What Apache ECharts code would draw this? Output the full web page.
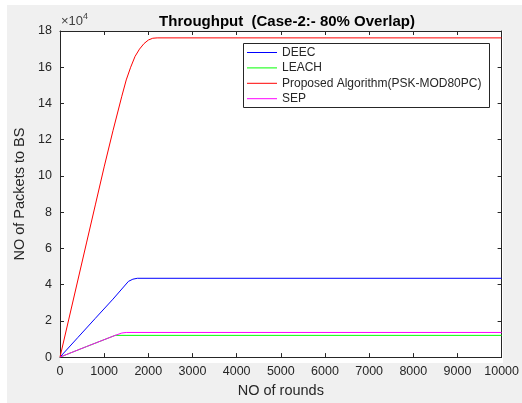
<!DOCTYPE html>
<html>
<head>
<meta charset="utf-8">
<script src="https://cdn.jsdelivr.net/npm/echarts@6/dist/echarts.min.js"></script>
<style>
html,body{margin:0;padding:0;background:#fff;}
#c{width:522px;height:403px;}
</style>
</head>
<body>
<div id="c"></div>
<script>
// Data (packets to BS vs rounds)
var seriesNames = ['DEEC', 'LEACH', 'Proposed Algorithm(PSK-MOD80PC)', 'SEP'];
var seriesColors = ['#0000ff', '#00ff00', '#ff0000', '#ff00ff'];

var deecRounds = [0, 400, 800, 1200, 1550, 1650, 1750, 10000];
var deecValues = [0, 10700, 21400, 32000, 41800, 43000, 43500, 43500];

var leachRounds = [0, 600, 1250, 10000];
var leachValues = [0, 5800, 12000, 12000];

var propRounds = [0, 200, 400, 600, 800, 1000, 1200, 1400, 1500, 1600, 1700, 1800, 1900, 2000, 2100, 2200, 10000];
var propValues = [0, 21000, 42000, 63000, 84000, 105000, 125000, 144000, 153000, 160000, 166000, 170000, 173000, 175000, 176000, 176200, 176200];

var sepRounds = [0, 600, 1250, 1400, 1500, 10000];
var sepValues = [0, 5800, 12000, 13300, 13600, 13600];

var xTickStep = 1000;
var yTickStep = 20000;

function pairs(xs, ys) { return xs.map(function (x, i) { return [x, ys[i]]; }); }
var allData = [
  pairs(deecRounds, deecValues),
  pairs(leachRounds, leachValues),
  pairs(propRounds, propValues),
  pairs(sepRounds, sepValues)
];

var FONT = 'Liberation Sans, Arial, Helvetica, sans-serif';
var TXT = '#262626';

var chart = echarts.init(document.getElementById('c'), null, {renderer: 'canvas'});
var axisCommon = {
  axisLine: {show: true, onZero: false, lineStyle: {color: TXT, width: 1}},
  axisTick: {show: true, inside: true, length: 4, lineStyle: {color: TXT}},
  splitLine: {show: false}
};
var option = {
  backgroundColor: '#ffffff',
  animation: false,
  textStyle: {fontFamily: FONT},
  graphic: [
    {type: 'rect', z: -10, shape: {x: 7, y: 5, width: 515, height: 398}, style: {fill: '#f0f0f0'}},
    {type: 'rect', z: -9, shape: {x: 60, y: 31, width: 443, height: 332}, style: {fill: '#ffffff'}},
    {type: 'text', left: 61, top: 12, style: {
      text: '{a|×10}{b|4}', fill: '#404040',
      rich: {a: {fontSize: 13, fontFamily: FONT, fill: '#404040', verticalAlign: 'bottom'},
             b: {fontSize: 9, fontFamily: FONT, fill: '#404040', verticalAlign: 'top', padding: [0, 0, 7, 0]}}
    }},
    {type: 'rect', z: 50, shape: {x: 243.5, y: 43.5, width: 246, height: 64},
     style: {fill: '#ffffff', stroke: TXT, lineWidth: 1}}
  ],
  title: {
    text: 'Throughput  (Case-2:- 80% Overlap)',
    left: 282, top: 9, textAlign: 'center',
    textStyle: {fontSize: 15, fontWeight: 'bold', color: '#000', fontFamily: FONT}
  },
  legend: {
    show: true, orient: 'vertical', left: 247, top: 45, z: 60,
    icon: 'path://M0,0L30,0L30,1L0,1Z',
    itemWidth: 30, itemHeight: 1.2, itemGap: 0.4, padding: 0,
    data: seriesNames,
    textStyle: {fontSize: 12, lineHeight: 15, color: TXT, fontFamily: FONT},
    selectedMode: false
  },
  grid: {left: 60, top: 31, right: 19, bottom: 40, containLabel: false},
  xAxis: [
    Object.assign({}, axisCommon, {
      type: 'value', min: 0, max: 10000, interval: xTickStep, position: 'bottom',
      name: 'NO of rounds', nameLocation: 'middle', nameGap: 24,
      nameTextStyle: {fontSize: 14.5, color: TXT, fontFamily: FONT},
      axisLabel: {color: TXT, fontSize: 12.5, margin: 8, fontFamily: FONT,
                  formatter: function (v) { return String(v); }}
    }),
    Object.assign({}, axisCommon, {
      type: 'value', min: 0, max: 10000, interval: xTickStep, position: 'top',
      axisLabel: {show: false}
    })
  ],
  yAxis: [
    Object.assign({}, axisCommon, {
      type: 'value', min: 0, max: 180000, interval: yTickStep, position: 'left',
      name: 'NO of Packets to BS', nameLocation: 'middle', nameGap: 28,
      nameTextStyle: {fontSize: 14.5, color: TXT, fontFamily: FONT},
      axisLabel: {color: TXT, fontSize: 12.5, margin: 8, fontFamily: FONT,
                  formatter: function (v) { return String(v / 10000); }}
    }),
    Object.assign({}, axisCommon, {
      type: 'value', min: 0, max: 180000, interval: yTickStep, position: 'right',
      axisLabel: {show: false}
    })
  ],
  series: seriesNames.map(function (n, i) {
    return {
      name: n, type: 'line', data: allData[i], xAxisIndex: 0, yAxisIndex: 0,
      showSymbol: false, symbol: 'none', smooth: false,
      lineStyle: {color: seriesColors[i], width: 1},
      itemStyle: {color: seriesColors[i]},
      z: 10 + i
    };
  })
};
chart.setOption(option);
</script>
</body>
</html>
